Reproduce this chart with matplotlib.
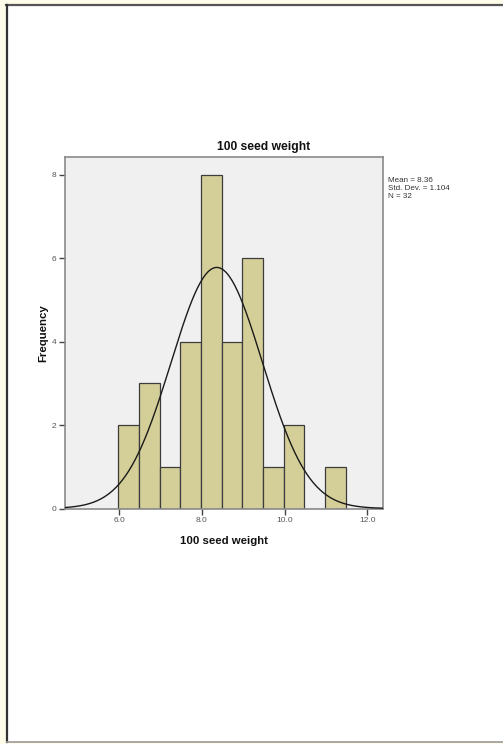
import numpy as np
import matplotlib
matplotlib.use("Agg")
import matplotlib.pyplot as plt
from matplotlib.patches import Rectangle
from matplotlib.lines import Line2D

# ---- data ----
bin_start = 5.98
bin_width = 0.5
counts = [2, 3, 1, 4, 8, 4, 6, 1, 2, 0, 1]
mean_val = 8.36
std_val = 1.104
n_val = 32
x_ticks = [6.0, 8.0, 10.0, 12.0]
x_tick_labels = ["6.0", "8.0", "10.0", "12.0"]
y_ticks = [0, 2, 4, 6, 8]
title = "100 seed weight"
xlabel = "100 seed weight"
ylabel = "Frequency"
stats_lines = ["Mean = 8.36", "Std. Dev. = 1.104", "N = 32"]

plt.rcParams['font.family'] = ['Liberation Sans', 'DejaVu Sans']

W, H = 503, 744
fig = plt.figure(figsize=(W / 100, H / 100), dpi=100)
fig.patch.set_facecolor("#FFFCEA")

def fx(px):
    return px / W

def fy(py):
    return 1 - py / H

# white page and borders
fig.add_artist(Rectangle((fx(7), fy(742)), 1 - fx(7), fy(5) - fy(742),
                         transform=fig.transFigure, facecolor="white", edgecolor="none", zorder=0))
fig.add_artist(Line2D([fx(6), 1], [fy(5), fy(5)], transform=fig.transFigure, color="#555555", lw=1.6))
fig.add_artist(Line2D([fx(7), fx(7)], [fy(4.5), fy(742)], transform=fig.transFigure, color="#333333", lw=1.6))
fig.add_artist(Line2D([fx(7), 1], [fy(741.5), fy(741.5)], transform=fig.transFigure, color="#999999", lw=1.2))

ax_l, ax_r, ax_t, ax_b = 65, 383, 157, 508.5
ax = fig.add_axes([fx(ax_l), fy(ax_b), fx(ax_r) - fx(ax_l), fy(ax_t) - fy(ax_b)])
ax.set_facecolor("#F0F0F0")

edges = bin_start + bin_width * np.arange(len(counts))
ax.bar(edges, counts, width=bin_width, align="edge", color="#D4CF99",
       edgecolor="#3C3C3C", linewidth=0.9, zorder=2)

xmin, xmax = 4.69, 12.38
xs = np.linspace(xmin, xmax, 400)
ys = n_val * bin_width / (std_val * np.sqrt(2 * np.pi)) * np.exp(-0.5 * ((xs - mean_val) / std_val) ** 2)
ax.plot(xs, ys, color="#1a1a1a", lw=1.0, zorder=3)

ax.set_xlim(xmin, xmax)
ax.set_ylim(0, 8.43)
ax.set_xticks(x_ticks)
ax.set_xticklabels(x_tick_labels)
ax.set_yticks(y_ticks)
ax.tick_params(axis="both", direction="out", length=4, width=1.0, color="#444444",
               labelsize=6.0, labelcolor="#555555", pad=2)
for s in ax.spines.values():
    s.set_color("#8a8a8a")
    s.set_linewidth(1.2)

fig.text(fx(264), fy(147), title, ha="center", va="center", fontsize=8.7, fontweight="bold", color="#111111")
fig.text(fx(224.5), fy(541), xlabel, ha="center", va="center", fontsize=8.2, fontweight="bold", color="#111111")
fig.text(fx(43), fy(333), ylabel, ha="center", va="center", rotation=90, fontsize=8.2,
         fontweight="bold", color="#111111")

for i, line in enumerate(stats_lines):
    fig.text(fx(388), fy(180 + 8 * i), line, ha="left", va="center", fontsize=5.8, color="#333333",
             linespacing=1.0)

fig.savefig("out.png", dpi=100, facecolor=fig.get_facecolor())
